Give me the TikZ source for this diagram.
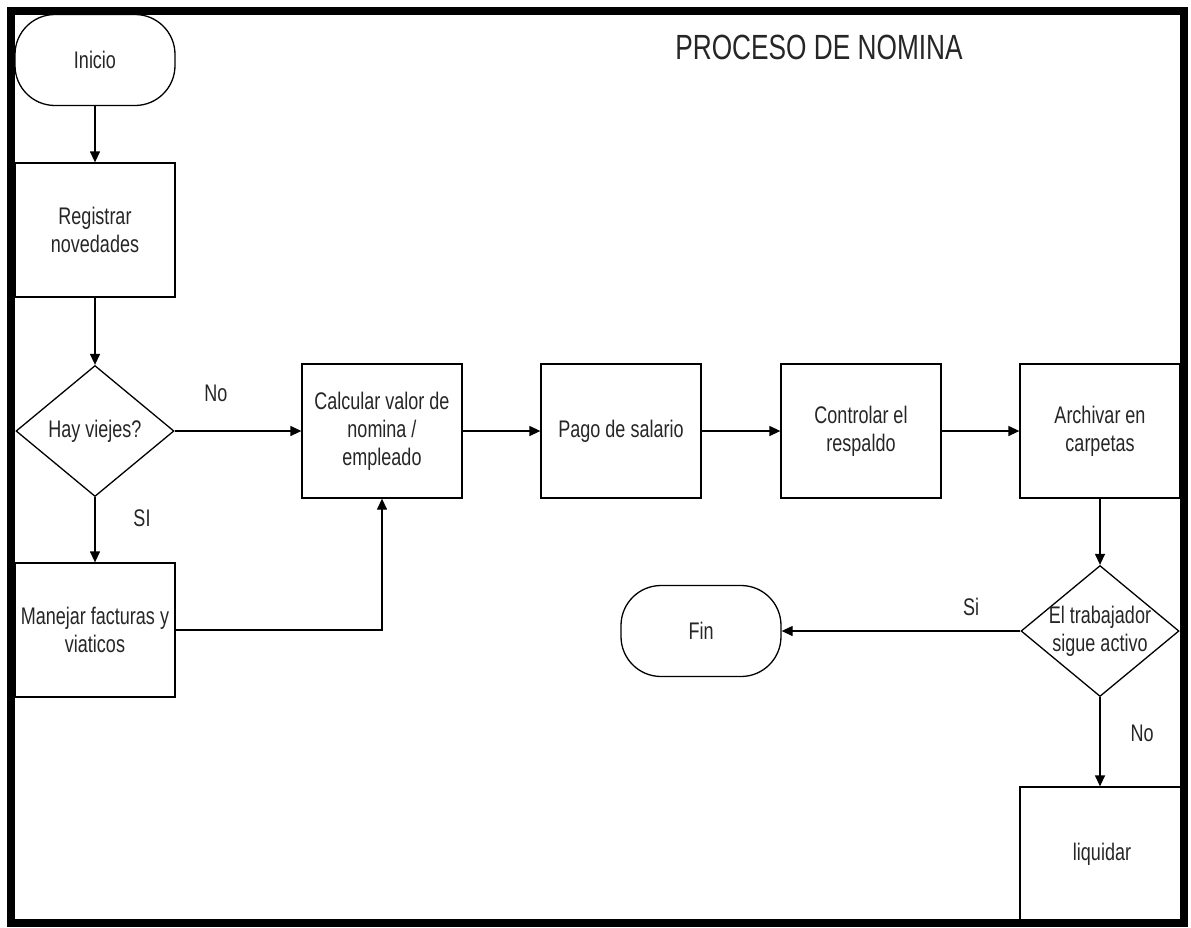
\documentclass[tikz,border=0pt]{standalone}
\usepackage{fontspec}
\setmainfont{Liberation Sans}[FakeStretch=0.75]
\usetikzlibrary{shapes.geometric,arrows.meta}
\begin{document}
\begin{tikzpicture}[x=1pt,y=-1pt,
  every node/.style={font=\fontsize{24}{28}\selectfont, text=black!85},
  box/.style={draw, line width=1.3pt, minimum width=160pt, minimum height=134pt, inner sep=0pt, align=center},
  term/.style={draw, line width=1.3pt, rounded corners=40pt, minimum width=160pt, minimum height=91pt, inner sep=0pt, align=center},
  dec/.style={draw, diamond, line width=1.3pt, minimum width=158pt, minimum height=131pt, inner sep=-8pt, align=center},
  conn/.style={line width=1.3pt, -{Triangle[length=11pt,width=10pt]}},
  lbl/.style={inner sep=0pt}
]
\useasboundingbox (0,0) rectangle (1191,927);
\fill[white] (0,0) rectangle (1191,927);

\node[font=\fontsize{35}{40}\selectfont] (title) at (819,47) {PROCESO DE NOMINA};

\node[term] (inicio) at (95,60) {Inicio};
\node[box] (reg) at (95,230) {Registrar\\novedades};
\node[dec] (d1) at (95,431) {Hay viejes?};
\node[box] (man) at (95,630) {Manejar facturas y\\viaticos};
\node[box] (calc) at (382,431) {Calcular valor de\\nomina /\\empleado};
\node[box] (pago) at (621,431) {Pago de salario};
\node[box] (ctrl) at (861,431) {Controlar el\\respaldo};
\node[box] (arch) at (1100,431) {Archivar en\\carpetas};
\node[dec] (d2) at (1100,631) {El trabajador\\sigue activo};
\node[term] (fin) at (701,631) {Fin};
\node[box, minimum width=164pt] (liq) at (1102,854) {liquidar};

\draw[conn] (inicio) -- (reg);
\draw[conn] (reg) -- (d1);
\draw[conn] (d1.east) -- (calc.west);
\draw[conn] (d1.south) -- (man.north);
\draw[conn] (man.east) -| (calc.south);
\draw[conn] (calc) -- (pago);
\draw[conn] (pago) -- (ctrl);
\draw[conn] (ctrl) -- (arch);
\draw[conn] (arch.south) -- (d2.north);
\draw[conn] (d2.west) -- (fin.east);
\draw[conn] (d2.south) -- (d2.south |- liq.north);

\node[lbl] (lno1) at (216,393) {No};
\node[lbl] (lsi1) at (142,518) {SI};
\node[lbl] (lsi2) at (971,607) {Si};
\node[lbl] (lno2) at (1142,733) {No};

\draw[line width=8pt] (11,11) rectangle (1184,923);
\end{tikzpicture}
\end{document}
